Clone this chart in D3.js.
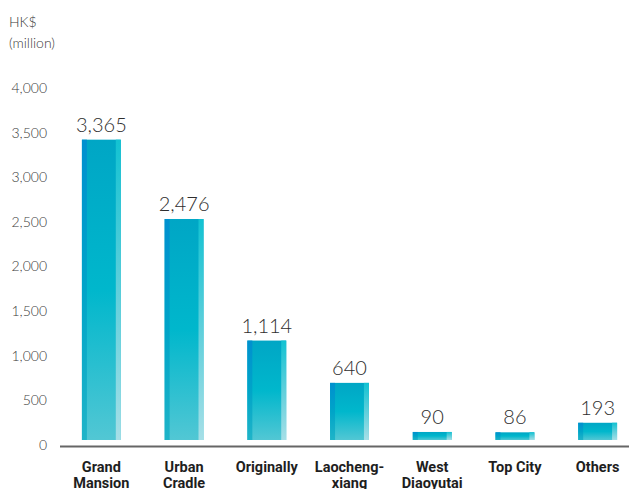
<!DOCTYPE html>
<html>
<head>
<meta charset="utf-8">
<script src="https://cdn.jsdelivr.net/npm/d3@7"></script>
<style>
  body { margin: 0; background: #fff; }
  text { font-family: "DejaVu Sans", sans-serif; }
</style>
</head>
<body>
<svg id="chart" width="629" height="489"></svg>
<script>
var categories = [["Grand", "Mansion"], ["Urban", "Cradle"], ["Originally"], ["Laocheng-", "xiang"], ["West", "Diaoyutai"], ["Top City"], ["Others"]]
var values = [3365, 2476, 1114, 640, 90, 86, 193]
var tickValues = [0, 500, 1000, 1500, 2000, 2500, 3000, 3500, 4000]

var svg = d3.select("#chart")
var defs = svg.append("defs")

// bar colours: main face, dark left strip, light right strip
var grads = {
  main: ["#00a6c5", "#00b7cc", "#52c7d4"],
  left: ["#0090cf", "#00a4c8", "#1fb4c8"],
  right: ["#12c2d2", "#5fcfdb", "#a6dfe7"]
}
for (var k in grads) {
  var g = defs.append("linearGradient").attr("id", "g-" + k)
    .attr("x1", 0).attr("y1", 0).attr("x2", 0).attr("y2", 1)
  g.append("stop").attr("offset", "0%").attr("stop-color", grads[k][0])
  g.append("stop").attr("offset", "50%").attr("stop-color", grads[k][1])
  g.append("stop").attr("offset", "100%").attr("stop-color", grads[k][2])
}

var x = d3.scaleBand()
  .domain(d3.range(values.length))
  .range([60, 639])
  .paddingInner(0.53)
  .paddingOuter(0.265)

// bars sit a few px above the axis line
var y = d3.scaleLinear().domain([0, 4000]).range([440, 83])
var bw = x.bandwidth()

// y tick labels
svg.append("g").selectAll("text")
  .data(tickValues).enter().append("text")
  .attr("x", 47)
  .attr("y", d => y(d) + 5)
  .attr("dy", "0.35em")
  .attr("text-anchor", "end")
  .attr("font-size", 14)
  .attr("font-weight", 300)
  .attr("fill", "#3a3a3a")
  .style("font-family", "Lato, sans-serif")
  .text(d => d3.format(",")(d))

// unit label
svg.append("text").attr("x", 9).attr("y", 27)
  .attr("font-size", 14).attr("fill", "#3a3a3a")
  .style("font-family", "Lato, sans-serif").attr("font-weight", 300)
  .text("HK$")
svg.append("text").attr("x", 9).attr("y", 48)
  .attr("font-size", 14).attr("fill", "#3a3a3a")
  .style("font-family", "Lato, sans-serif").attr("font-weight", 300)
  .text("(million)")

var bars = svg.append("g").selectAll("g")
  .data(values).enter().append("g")
  .attr("transform", (d, i) => "translate(" + x(i) + ",0)")

bars.append("rect")
  .attr("x", 0).attr("width", bw)
  .attr("y", d => y(d)).attr("height", d => y(0) - y(d))
  .attr("fill", "url(#g-main)")
bars.append("rect")
  .attr("x", 0).attr("width", 5)
  .attr("y", d => y(d)).attr("height", d => y(0) - y(d))
  .attr("fill", "url(#g-left)")
bars.append("rect")
  .attr("x", bw - 5).attr("width", 5)
  .attr("y", d => y(d)).attr("height", d => y(0) - y(d))
  .attr("fill", "url(#g-right)")

// value labels
bars.append("text")
  .attr("x", bw / 2)
  .attr("y", d => y(d) - 8)
  .attr("text-anchor", "middle")
  .attr("font-size", 20)
  .attr("font-weight", 300)
  .attr("fill", "#2e2e2e")
  .style("font-family", "Lato, sans-serif")
  .text(d => d3.format(",")(d))

// axis line
svg.append("line")
  .attr("x1", 60).attr("x2", 629)
  .attr("y1", 446.5).attr("y2", 446.5)
  .attr("stroke", "#666").attr("stroke-width", 2)

// category labels
var cat = svg.append("g").selectAll("text")
  .data(categories).enter().append("text")
  .attr("x", (d, i) => x(i) + bw / 2)
  .attr("y", 472)
  .attr("text-anchor", "middle")
  .attr("font-size", 14.5)
  .attr("font-weight", "bold")
  .attr("fill", "#1e1e1e")
  .style("font-family", "Roboto, sans-serif")
cat.selectAll("tspan")
  .data(d => d).enter().append("tspan")
  .attr("x", function() { return d3.select(this.parentNode).attr("x") })
  .attr("dy", (d, i) => i === 0 ? 0 : 16)
  .text(d => d)
</script>
</body>
</html>
